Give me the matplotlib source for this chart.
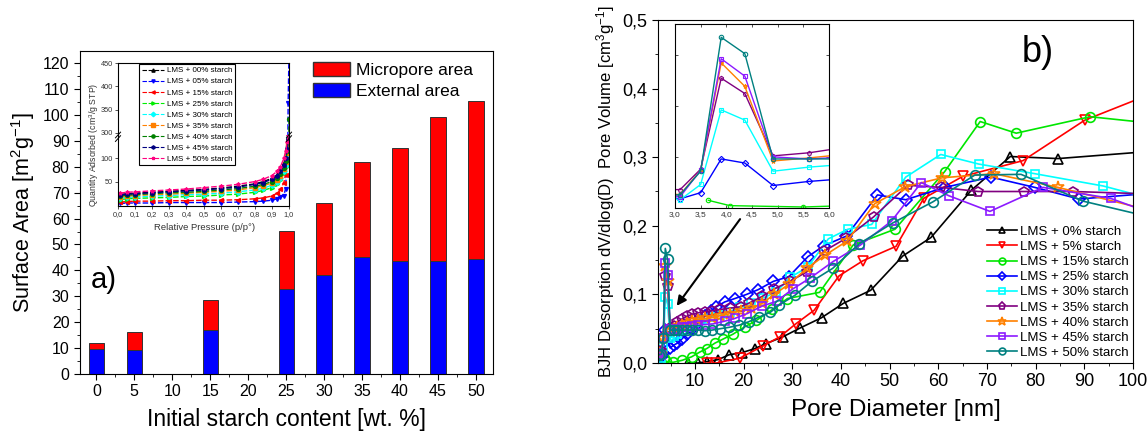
import matplotlib
matplotlib.use("Agg")
import matplotlib.pyplot as plt
from matplotlib.patches import Patch
from matplotlib.lines import Line2D
from matplotlib.ticker import MultipleLocator, FuncFormatter

plt.rcParams['font.family'] = ['Liberation Sans', 'DejaVu Sans']
plt.rcParams['mathtext.fontset'] = 'custom'
plt.rcParams['mathtext.rm'] = 'Liberation Sans'
plt.rcParams['mathtext.it'] = 'Liberation Sans:italic'
plt.rcParams['mathtext.bf'] = 'Liberation Sans:bold'

# ---------------- panel a) surface areas ----------------
starch = [0, 5, 15, 25, 30, 35, 40, 45, 50]
external_area = [9.5, 9.2, 17.0, 32.8, 38.2, 45.0, 43.5, 43.8, 44.3]
total_area = [12.0, 16.3, 28.5, 55.3, 66.0, 81.8, 87.3, 99.3, 105.5]
micropore_area = [t - e for t, e in zip(total_area, external_area)]

# ---------------- inset a) N2 isotherms ----------------
rel_p = [0.01, 0.05, 0.10, 0.20, 0.30, 0.40, 0.50, 0.60, 0.70, 0.80,
         0.85, 0.90, 0.93, 0.95, 0.97, 0.98, 0.99, 0.995, 1.0]
iso_00 = [22, 24, 25, 27, 29, 31, 33, 36, 40, 45, 50, 57, 65, 75, 90, 105, 125, 145, 160]
iso_05 = [3, 4, 4, 4, 5, 5, 5, 5, 6, 7, 8, 10, 13, 17, 20, 35, 110, 365, 470]
iso_15 = [6, 7, 8, 8, 9, 9, 10, 10, 11, 13, 15, 19, 25, 33, 48, 65, 90, 115, 135]
iso_25 = [11, 13, 14, 15, 16, 18, 19, 21, 23, 27, 31, 37, 44, 53, 68, 82, 100, 120, 140]
iso_30 = [14, 16, 17, 19, 20, 22, 23, 25, 28, 32, 36, 42, 49, 58, 72, 86, 105, 125, 145]
iso_35 = [17, 19, 20, 22, 23, 25, 27, 29, 32, 37, 41, 47, 54, 63, 78, 92, 112, 130, 150]
iso_40 = [19, 21, 22, 24, 26, 27, 29, 32, 35, 40, 44, 50, 57, 66, 80, 95, 115, 135, 330]
iso_45 = [21, 23, 24, 26, 28, 30, 32, 35, 38, 44, 48, 55, 62, 72, 86, 100, 120, 140, 155]
iso_50 = [25, 27, 28, 30, 32, 34, 37, 40, 44, 50, 55, 63, 72, 82, 100, 115, 135, 150, 160]
iso_series = [iso_00, iso_05, iso_15, iso_25, iso_30, iso_35, iso_40, iso_45, iso_50]
iso_labels = ['LMS + 00% starch', 'LMS + 05% starch', 'LMS + 15% starch',
              'LMS + 25% starch', 'LMS + 30% starch', 'LMS + 35% starch',
              'LMS + 40% starch', 'LMS + 45% starch', 'LMS + 50% starch']
iso_colors = ['black', '#0000ff', '#ff0000', '#00ee00', '#00ffff',
              '#ff8000', '#008000', '#000080', '#ff0080']
iso_markers = ['^', 'v', '<', '>', 'D', 's', 'o', 'h', '*']

# ---------------- panel b) BJH pore size distributions ----------------
d_00 = [8.5, 10.6, 12.4, 14.8, 17.0, 19.6, 22.3, 24.5, 28.0, 31.6, 36.0, 40.5,
        46.1, 52.7, 58.5, 66.8, 74.8, 84.6, 110]
v_00 = [0.0, 0.0, 0.002, 0.005, 0.012, 0.015, 0.021, 0.028, 0.038, 0.051, 0.066,
        0.087, 0.106, 0.156, 0.183, 0.252, 0.301, 0.298, 0.312]
d_05 = [12.5, 14.4, 19.2, 24.0, 27.4, 30.7, 34.5, 39.6, 44.5, 51.3, 57.0, 65.0,
        77.4, 90.1, 110]
v_05 = [0.0, 0.0, 0.007, 0.025, 0.038, 0.057, 0.077, 0.127, 0.149, 0.170, 0.240,
        0.272, 0.295, 0.354, 0.41]
d_15 = [3.65, 4.07, 5.5, 7.4, 9.3, 11.0, 12.4, 14.1, 15.8, 17.8, 20.3, 22.6, 25.9,
        29.0, 35.6, 42.5, 51.1, 61.3, 68.6, 76.0, 91.2, 110]
v_15 = [0.0075, 0.0023, 0.001, 0.004, 0.009, 0.016, 0.021, 0.029, 0.035, 0.042,
        0.053, 0.062, 0.078, 0.094, 0.103, 0.172, 0.195, 0.279, 0.352, 0.335,
        0.359, 0.345]
d_25 = [2.7, 3.1, 3.5, 3.9, 4.36, 4.91, 5.61, 6.4, 7.3, 8.3, 9.4, 10.6, 12.0,
        13.3, 14.4, 16.1, 18.2, 20.6, 23.0, 26.1, 29.3, 33.2, 36.5, 41.1, 47.5,
        53.3, 61.3, 70.8, 79.8, 88.9, 110]
v_25 = [0.012, 0.009, 0.015, 0.048, 0.044, 0.022, 0.026, 0.029, 0.035, 0.042,
        0.050, 0.058, 0.068, 0.076, 0.082, 0.089, 0.094, 0.100, 0.107, 0.119,
        0.126, 0.155, 0.171, 0.185, 0.245, 0.238, 0.256, 0.271, 0.256, 0.239,
        0.251]
d_30 = [2.7, 3.1, 3.5, 3.9, 4.36, 4.91, 5.61, 6.4, 7.3, 8.3, 9.4, 10.6, 12.0,
        13.5, 15.2, 17.1, 19.2, 21.5, 24.0, 26.6, 29.6, 33.2, 37.4, 41.4, 46.3,
        53.3, 60.5, 68.3, 79.8, 93.9, 110]
v_30 = [0.012, 0.008, 0.023, 0.096, 0.086, 0.036, 0.040, 0.043, 0.048, 0.052,
        0.056, 0.060, 0.064, 0.067, 0.070, 0.075, 0.081, 0.088, 0.095, 0.103,
        0.125, 0.140, 0.181, 0.195, 0.202, 0.271, 0.304, 0.290, 0.276, 0.258,
        0.228]
d_35 = [2.7, 3.1, 3.5, 3.9, 4.36, 4.91, 5.61, 6.4, 7.3, 8.3, 9.4, 10.6, 12.0,
        13.5, 15.2, 17.2, 19.4, 21.0, 23.8, 26.3, 29.5, 33.0, 36.5, 41.1, 46.7,
        53.7, 60.6, 68.2, 77.6, 87.6, 110]
v_35 = [0.018, 0.018, 0.038, 0.127, 0.112, 0.051, 0.054, 0.060, 0.064, 0.068,
        0.071, 0.073, 0.075, 0.076, 0.078, 0.080, 0.082, 0.087, 0.097, 0.108,
        0.119, 0.133, 0.163, 0.182, 0.213, 0.259, 0.256, 0.250, 0.250, 0.250,
        0.245]
d_40 = [2.7, 3.1, 3.5, 3.9, 4.36, 4.91, 5.61, 6.4, 7.3, 8.3, 9.4, 10.6, 12.0,
        13.5, 15.2, 17.2, 19.4, 21.5, 23.8, 26.3, 29.3, 33.0, 36.7, 41.3, 46.9,
        53.2, 60.8, 71.4, 84.6, 110]
v_40 = [0.015, 0.013, 0.037, 0.142, 0.119, 0.046, 0.049, 0.053, 0.056, 0.059,
        0.061, 0.063, 0.065, 0.066, 0.069, 0.072, 0.076, 0.080, 0.087, 0.100,
        0.115, 0.138, 0.157, 0.178, 0.232, 0.257, 0.270, 0.276, 0.256, 0.211]
d_45 = [2.7, 3.1, 3.5, 3.9, 4.36, 4.91, 5.61, 6.4, 7.3, 8.3, 9.4, 10.6, 12.0,
        13.7, 16.1, 18.2, 20.7, 23.8, 26.8, 30.1, 33.7, 38.4, 44.0, 50.4, 56.5,
        62.1, 70.6, 81.5, 95.4, 110]
v_45 = [0.014, 0.011, 0.037, 0.146, 0.129, 0.050, 0.048, 0.050, 0.052, 0.053,
        0.054, 0.055, 0.056, 0.057, 0.061, 0.065, 0.072, 0.083, 0.090, 0.108,
        0.124, 0.148, 0.172, 0.207, 0.263, 0.244, 0.221, 0.256, 0.240, 0.202]
d_50 = [2.7, 3.1, 3.5, 3.9, 4.36, 4.91, 5.61, 6.4, 7.3, 8.3, 9.4, 10.6, 12.0,
        13.5, 15.2, 17.0, 19.0, 21.0, 23.2, 25.5, 27.2, 30.6, 34.0, 38.3, 43.8,
        50.6, 58.9, 67.5, 77.0, 89.7, 110]
v_50 = [0.012, 0.013, 0.036, 0.167, 0.151, 0.048, 0.048, 0.048, 0.048, 0.048,
        0.048, 0.048, 0.047, 0.048, 0.050, 0.052, 0.055, 0.060, 0.067, 0.074,
        0.084, 0.099, 0.119, 0.138, 0.174, 0.204, 0.235, 0.274, 0.275, 0.236,
        0.202]

bjh_d = [d_00, d_05, d_15, d_25, d_30, d_35, d_40, d_45, d_50]
bjh_v = [v_00, v_05, v_15, v_25, v_30, v_35, v_40, v_45, v_50]
bjh_labels = ['LMS + 0% starch', 'LMS + 5% starch', 'LMS + 15% starch',
              'LMS + 25% starch', 'LMS + 30% starch', 'LMS + 35% starch',
              'LMS + 40% starch', 'LMS + 45% starch', 'LMS + 50% starch']
bjh_colors = ['black', '#ff0000', '#00e600', '#0000ff', '#00ffff',
              '#800080', '#ff8000', '#8c1aff', '#008080']
bjh_markers = ['^', 'v', 'o', 'D', 's', 'p', '*', 's', 'o']
bjh_msize = [7, 7, 7, 6, 6, 7.5, 9, 6, 7]


def comma(fmt):
    return FuncFormatter(lambda v, _: fmt.format(v).replace('.', ','))


W, H = 1147, 436
fig = plt.figure(figsize=(W / 100, H / 100), dpi=100)


def box(x0, y0, x1, y1):
    # pixel box (top-left origin) -> figure fraction rect
    return [x0 / W, 1 - y1 / H, (x1 - x0) / W, (y1 - y0) / H]


# ===== panel a =====
axa = fig.add_axes(box(80, 51, 493, 374))
axa.bar(starch, external_area, width=2, color='#0000ff', edgecolor='#333333',
        linewidth=0.7, label='External area')
axa.bar(starch, micropore_area, width=2, bottom=external_area, color='#ff0000',
        edgecolor='#333333', linewidth=0.7, label='Micropore area')
axa.set_xlim(-2.15, 52.25)
axa.set_ylim(0, 124.7)
axa.set_xticks(range(0, 55, 5))
axa.yaxis.set_major_locator(MultipleLocator(10))
axa.yaxis.set_minor_locator(MultipleLocator(5))
axa.xaxis.set_minor_locator(MultipleLocator(2.5))
axa.tick_params(which='both', direction='out', labelsize=11.5, top=False, right=False)
axa.tick_params(which='major', length=4)
axa.tick_params(which='minor', length=2.5)
axa.set_xlabel('Initial starch content [wt. %]', fontsize=16.5, labelpad=6)
axa.set_ylabel('Surface Area [m$^2$g$^{-1}$]', fontsize=15.5, labelpad=4)
fig.text(91 / W, 1 - 288 / H, 'a)', fontsize=21, va='baseline')
axa.legend(handles=[Patch(facecolor='#ff0000', edgecolor='#333333', label='Micropore area'),
                    Patch(facecolor='#0000ff', edgecolor='#333333', label='External area')],
           loc='upper left', bbox_to_anchor=(313 / W, 1 - 62 / H),
           bbox_transform=fig.transFigure, frameon=False, fontsize=12.5,
           handlelength=2.15, handleheight=0.85, handletextpad=0.35,
           labelspacing=0.3, borderpad=0, borderaxespad=0)

# ===== inset a (broken y axis) =====
ins_lo = fig.add_axes(box(118, 135, 289, 206.5))
ins_hi = fig.add_axes(box(118, 63.3, 289, 135))
for ax in (ins_lo, ins_hi):
    for vals, col, mk, lab in zip(iso_series, iso_colors, iso_markers, iso_labels):
        ax.plot(rel_p, vals, color=col, marker=mk, ms=2.8, lw=1.0, ls='--',
                dashes=(4, 1.5), label=lab)
    ax.set_xlim(0, 1.0)
    ax.tick_params(which='both', direction='out', labelsize=5.3, colors='#333333',
                   length=2, width=0.6, pad=1.5)
    for s in ax.spines.values():
        s.set_linewidth(0.8)
ins_lo.set_ylim(-3.5, 150)
ins_lo.set_yticks([50, 100])
ins_lo.set_xticks([i / 10 for i in range(11)])
ins_lo.xaxis.set_major_formatter(comma('{:.1f}'))
ins_lo.spines['top'].set_visible(False)
ins_hi.set_ylim(295, 450)
ins_hi.set_yticks([300, 350, 400, 450])
ins_hi.set_xticks([])
ins_hi.spines['bottom'].set_visible(False)
for xx in (0, 1):
    ins_hi.plot([xx - 0.015, xx + 0.015], [-0.04, 0.04], color='k', lw=0.7,
                transform=ins_hi.transAxes, clip_on=False)
    ins_hi.plot([xx - 0.015, xx + 0.015], [-0.09, -0.01], color='k', lw=0.7,
                transform=ins_hi.transAxes, clip_on=False)
fig.text(94 / W, 1 - 145 / H, 'Quantity Adsorbed (cm$^3$/g STP)', rotation=90,
         ha='center', va='center', fontsize=6.3, color='#333333')
fig.text(205 / W, 1 - 227 / H, 'Relative Pressure (p/p°)', ha='center', va='center',
         fontsize=6.8, color='#333333')
iso_handles = [Line2D([], [], color=c, marker=m, ms=2.3, lw=0.8, ls='--', dashes=(4, 1.5))
               for c, m in zip(iso_colors, iso_markers)]
fig.legend(iso_handles, iso_labels, loc='upper left', bbox_to_anchor=(139 / W, 1 - 64 / H),
           fontsize=5.8, frameon=True, fancybox=False, edgecolor='black', framealpha=1,
           borderpad=0.35, labelspacing=0.42, handlelength=2.8, handletextpad=0.3,
           borderaxespad=0).get_frame().set_linewidth(0.8)

# ===== panel b =====
axb = fig.add_axes(box(658, 20, 1133, 363))
for d, v, col, mk, ms, lab in zip(bjh_d, bjh_v, bjh_colors, bjh_markers, bjh_msize, bjh_labels):
    axb.plot(d, v, color=col, marker=mk, ms=ms, mfc='none', mew=1.2, lw=1.2, label=lab)
axb.set_xlim(2.4, 100)
axb.set_ylim(0, 0.5)
axb.xaxis.set_major_locator(MultipleLocator(10))
axb.xaxis.set_minor_locator(MultipleLocator(5))
axb.yaxis.set_major_locator(MultipleLocator(0.1))
axb.yaxis.set_minor_locator(MultipleLocator(0.05))
axb.yaxis.set_major_formatter(comma('{:.1f}'))
axb.tick_params(which='both', direction='out', labelsize=13, top=False, right=False)
axb.tick_params(which='major', length=4)
axb.tick_params(which='minor', length=2.5)
axb.set_xlabel('Pore Diameter [nm]', fontsize=17.5, labelpad=6)
axb.set_ylabel('BJH Desorption dV/dlog(D)  Pore Volume [cm$^3$g$^{-1}$]', fontsize=12, labelpad=4)
fig.text(1022 / W, 1 - 62 / H, 'b)', fontsize=26, va='baseline')
axb.legend(loc='lower right', bbox_to_anchor=(1133 / W, 1 - 363 / H),
           bbox_transform=fig.transFigure, frameon=False, fontsize=9.5,
           markerscale=0.7, handlelength=2.3, handletextpad=0.25,
           labelspacing=0.22, borderpad=0.2, borderaxespad=0.1)
axb.annotate('', xy=(5.9, 0.080), xytext=(19.6, 0.213),
             arrowprops=dict(arrowstyle='-|>', color='black', lw=1.5, mutation_scale=14))

# ===== inset b =====
insb = fig.add_axes(box(675, 24, 829, 208))
for d, v, col, mk in zip(bjh_d, bjh_v, bjh_colors, bjh_markers):
    insb.plot(d, v, color=col, marker=mk, ms=3.2, mfc='none', mew=0.8, lw=1.0)
insb.set_xlim(3.0, 6.0)
insb.set_ylim(0, 0.18)
insb.xaxis.set_major_locator(MultipleLocator(0.5))
insb.xaxis.set_major_formatter(comma('{:.1f}'))
insb.yaxis.set_major_locator(MultipleLocator(0.05))
insb.set_yticklabels([])
insb.tick_params(which='both', direction='in', labelsize=6, colors='#333333',
                 length=2.5, width=0.6, pad=2, top=True, right=True)
for s in insb.spines.values():
    s.set_linewidth(0.8)

fig.savefig('out.png', dpi=100)
